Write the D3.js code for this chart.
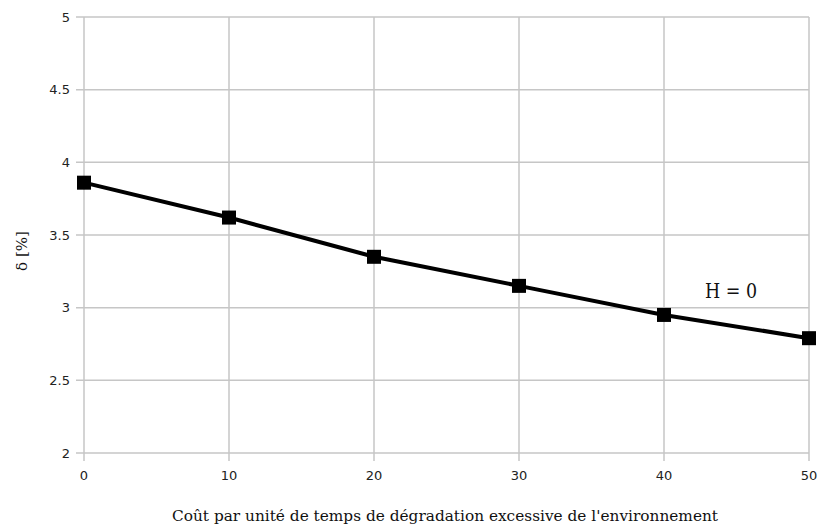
<!DOCTYPE html>
<html><head><meta charset="utf-8">
<script src="https://cdn.jsdelivr.net/npm/d3@7"></script>
<style>body{margin:0;background:#fff}</style>
</head><body>
<svg id="c" width="818" height="526"></svg>
<script>
const xValues = [0, 10, 20, 30, 40, 50];
const deltaValues = [3.86, 3.62, 3.35, 3.15, 2.95, 2.79];
const yTicks = [2, 2.5, 3, 3.5, 4, 4.5, 5];
const xTicks = [0, 10, 20, 30, 40, 50];
const xTitle = "Coût par unité de temps de dégradation excessive de l'environnement";
const yTitle = "δ [%]";
const seriesLabel = "H = 0";

const svg = d3.select("#c");
const L = 84, R = 809, T = 17, B = 453;
const x = d3.scaleLinear().domain([0, 50]).range([L, R]);
const y = d3.scaleLinear().domain([2, 5]).range([B, T]);
const grid = "#c6c6c6";

// grid
svg.append("g").selectAll("line").data(yTicks).join("line")
  .attr("x1", L - 8).attr("x2", R).attr("y1", d => y(d)).attr("y2", d => y(d))
  .attr("stroke", grid).attr("stroke-width", 1.5);
svg.append("g").selectAll("line").data(xTicks).join("line")
  .attr("y1", T).attr("y2", B + 8).attr("x1", d => x(d)).attr("x2", d => x(d))
  .attr("stroke", grid).attr("stroke-width", 1.5);

// tick labels
svg.append("g").selectAll("text").data(yTicks).join("text")
  .attr("x", L - 14).attr("y", d => y(d)).attr("dy", "0.36em")
  .attr("text-anchor", "end").attr("font-family", "DejaVu Sans").attr("font-size", 13)
  .attr("fill", "#222").text(d => d);
svg.append("g").selectAll("text").data(xTicks).join("text")
  .attr("x", d => x(d)).attr("y", B + 27)
  .attr("text-anchor", "middle").attr("font-family", "DejaVu Sans").attr("font-size", 13)
  .attr("fill", "#222").text(d => d);

// line
const data = xValues.map((v, i) => [v, deltaValues[i]]);
svg.append("path").datum(data)
  .attr("d", d3.line().x(d => x(d[0])).y(d => y(d[1])))
  .attr("fill", "none").attr("stroke", "#000").attr("stroke-width", 4);
const s = 14;
svg.append("g").selectAll("rect").data(data).join("rect")
  .attr("x", d => x(d[0]) - s / 2).attr("y", d => y(d[1]) - s / 2)
  .attr("width", s).attr("height", s).attr("fill", "#000");

// titles
svg.append("text").attr("x", 172).attr("y", 521)
  .attr("font-family", "DejaVu Serif").attr("font-size", 15)
  .attr("textLength", 546).attr("lengthAdjust", "spacingAndGlyphs")
  .attr("fill", "#111").text(xTitle);
svg.append("text").attr("transform", `translate(27,251) rotate(-90)`)
  .attr("text-anchor", "middle").attr("font-family", "DejaVu Serif").attr("font-size", 15)
  .attr("fill", "#111").text(yTitle);
svg.append("text").attr("x", 705).attr("y", 298)
  .attr("font-family", "DejaVu Serif").attr("font-size", 20)
  .attr("textLength", 52).attr("lengthAdjust", "spacingAndGlyphs")
  .attr("fill", "#111").text(seriesLabel);
</script>
</body></html>
